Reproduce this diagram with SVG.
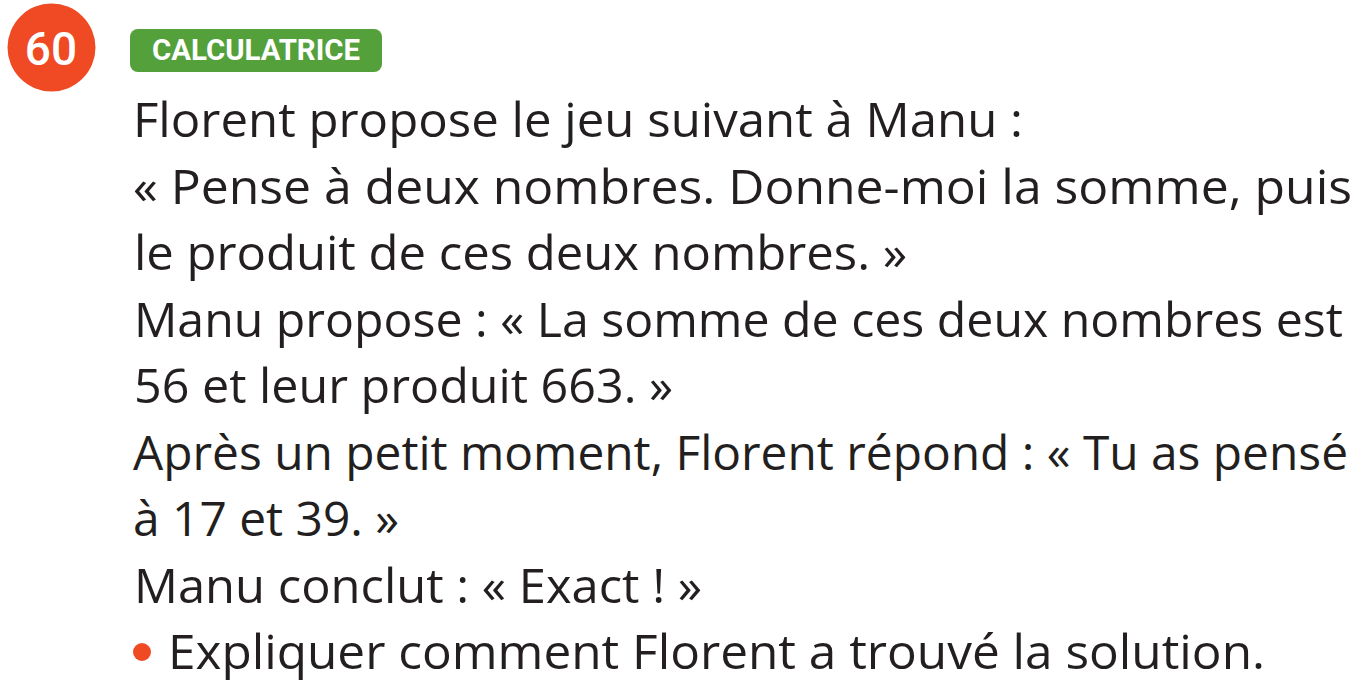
<svg xmlns="http://www.w3.org/2000/svg" width="1363" height="687" viewBox="0 0 1363 687">
<style>
.t{font-family:"Open Sans","Noto Sans","Liberation Sans",sans-serif;font-size:48px;fill:#231f20}
.num{font-family:"Roboto","Open Sans","Liberation Sans",sans-serif;font-size:46px;font-weight:500;fill:#ffffff}
.lab{font-family:"Roboto","Open Sans","Liberation Sans",sans-serif;font-size:29px;font-weight:700;fill:#ffffff}
</style>
<rect width="1363" height="687" fill="#ffffff"/>
<g id="badge-number">
<circle cx="51.5" cy="47.5" r="44" fill="#ef4a23"/>
<text class="num" x="51" y="65" text-anchor="middle">60</text>
</g>
<g id="badge-label">
<rect x="130" y="29" width="252" height="43" rx="8" fill="#54a13b"/>
<text class="lab" x="152" y="60" textLength="208" lengthAdjust="spacingAndGlyphs">CALCULATRICE</text>
</g>
<g id="statement">
<text class="t" x="133" y="137" textLength="890" lengthAdjust="spacingAndGlyphs">Florent propose le jeu suivant à Manu :</text>
<text class="t" x="133" y="203.5" textLength="1219" lengthAdjust="spacingAndGlyphs">« Pense à deux nombres. Donne-moi la somme, puis</text>
<text class="t" x="134" y="270" textLength="773" lengthAdjust="spacingAndGlyphs">le produit de ces deux nombres. »</text>
<text class="t" x="134" y="336.5" textLength="1209" lengthAdjust="spacingAndGlyphs">Manu propose : « La somme de ces deux nombres est</text>
<text class="t" x="134" y="403" textLength="539" lengthAdjust="spacingAndGlyphs">56 et leur produit 663. »</text>
<text class="t" x="133" y="469.5" textLength="1215" lengthAdjust="spacingAndGlyphs">Après un petit moment, Florent répond : « Tu as pensé</text>
<text class="t" x="133" y="536" textLength="266" lengthAdjust="spacingAndGlyphs">à 17 et 39. »</text>
<text class="t" x="134" y="602.5" textLength="568" lengthAdjust="spacingAndGlyphs">Manu conclut : « Exact ! »</text>
</g>
<g id="question">
<circle cx="142" cy="652" r="9" fill="#ef4a23"/>
<text class="t" x="168" y="669" textLength="1097" lengthAdjust="spacingAndGlyphs">Expliquer comment Florent a trouvé la solution.</text>
</g>
</svg>
